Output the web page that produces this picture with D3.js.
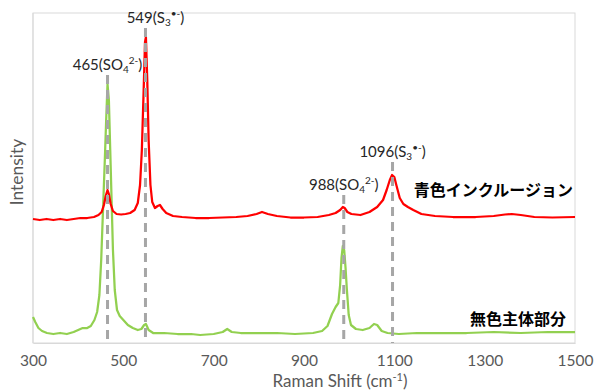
<!DOCTYPE html>
<html>
<head>
<meta charset="utf-8">
<script src="https://cdn.jsdelivr.net/npm/d3@7"></script>
<style>
  body { margin: 0; background: #fff; }
  svg { display: block; }
</style>
</head>
<body>
<div id="chart"></div>
<script>
// spectra: [Raman shift, intensity (arb.)]
const blueInclusion = [
  [300,124],[315,123],[330,124],[345,123],[360,124],[375,123],[390,124],[405,125],[420,125],
  [435,126],[445,128],[452,131],[457,138],[461,147],[465,153],[468,149],[472,139],[477,132],
  [485,129],[495,128.5],[505,129],[515,130],[525,133],[532,140],[537,158],[541,193],[545,253],
  [548,301],[550,306],[553,263],[556,203],[560,158],[564,141],[570,135],[576,137],[581,138],
  [587,134],[595,130],[610,127],[630,126],[660,125],[690,125],[720,125.5],[750,126],[775,127],
  [795,129],[807,131],[820,129],[840,127],[870,125.5],[900,125.5],[930,126],[955,128],[970,130],
  [980,133],[986,136],[990,135],[996,131],[1005,129],[1025,128],[1045,131],[1062,136],[1075,143],
  [1083,153],[1090,163],[1095,168],[1100,166],[1105,157],[1112,145],[1120,139],[1130,136],
  [1142,133],[1160,129],[1190,127],[1230,126],[1280,126],[1320,127],[1345,128.5],[1360,129],
  [1380,128],[1410,126],[1450,125.5],[1500,126]
]
const colourlessHost = [
  [300,26],[305,21],[312,15],[320,12],[331,10],[345,9],[360,10],[375,9],[390,11],[400,13],
  [410,15],[420,15],[428,17],[436,23],[442,31],[447,48],[451,83],[455,133],[459,183],[462,223],
  [465,259],[468,243],[471,193],[474,143],[477,93],[481,53],[486,33],[492,27],[500,23],[510,18],
  [521,15],[532,13],[540,14],[546,18],[550,19],[556,13],[566,10],[590,10],[620,9],[650,9],
  [670,8],[700,9],[720,11],[730,14],[740,11],[760,10],[800,10],[840,10],[880,9],[920,10],
  [940,12],[952,17],[962,29],[970,36],[976,40],[980,58],[983,85],[986,97],[989,93],[992,75],
  [995,53],[999,28],[1004,18],[1015,14],[1030,13],[1045,15],[1055,19],[1062,18],[1072,12],
  [1085,10],[1110,9],[1150,10],[1200,10],[1260,10],[1320,11],[1380,10],[1440,11],[1500,11]
]

// peak markers: position, top of dashed line, label parts (text, subscript, superscript)
const peakShift = [465, 549, 988, 1096]
const peakTop = [268, 315, 148, 181]
const peakText = ["465(SO", "549(S", "988(SO", "1096(S"]
const peakSub = ["4", "3", "4", "3"]
const peakSup = ["2-", "\u2022-", "2-", "\u2022-"]

const xTicks = [300, 500, 700, 900, 1100, 1300, 1500]
const seriesNames = ["青色インクルージョン", "無色主体部分"]

const width = 594, height = 390
const margin = { top: 13, right: 19, bottom: 47, left: 33 }

const svg = d3.select("#chart").append("svg")
  .attr("width", width)
  .attr("height", height)

const x = d3.scaleLinear()
  .domain([300, 1500])
  .range([margin.left, width - margin.right])
const y = d3.scaleLinear()
  .domain([0, 330])
  .range([height - margin.bottom, margin.top])

// plot frame
svg.append("rect")
  .attr("x", margin.left)
  .attr("y", margin.top)
  .attr("width", width - margin.left - margin.right)
  .attr("height", height - margin.top - margin.bottom)
  .attr("fill", "none")
  .attr("stroke", "#d9d9d9")
  .attr("stroke-width", 1)

const xAxis = svg.append("g")
  .attr("transform", `translate(0,${height - margin.bottom})`)
  .call(d3.axisBottom(x).tickValues(xTicks).tickFormat(d3.format("d")).tickSize(0).tickPadding(12))
xAxis.select(".domain").attr("stroke", "#d9d9d9")
xAxis.selectAll("text")
  .style("font-family", "Lato, sans-serif")
  .style("font-size", "15.5px")
  .attr("fill", "#595959")

svg.append("line")
  .attr("x1", margin.left).attr("x2", margin.left)
  .attr("y1", margin.top).attr("y2", height - margin.bottom)
  .attr("stroke", "#d9d9d9")

// axis titles
svg.append("text")
  .attr("x", 340)
  .attr("y", 387)
  .attr("text-anchor", "middle")
  .style("font-family", "Lato, sans-serif")
  .style("font-size", "17px")
  .attr("fill", "#595959")
  .call(t => {
    t.append("tspan").text("Raman Shift (cm")
    t.append("tspan").text("-1").attr("dy", -6).style("font-size", "11px")
    t.append("tspan").text(")").attr("dy", 6)
  })

svg.append("text")
  .attr("transform", "translate(23,172) rotate(-90)")
  .attr("text-anchor", "middle")
  .style("font-family", "Lato, sans-serif")
  .style("font-size", "17.5px")
  .attr("fill", "#595959")
  .text("Intensity")

const line = d3.line()
  .x(d => x(d[0]))
  .y(d => y(d[1]))

svg.append("path")
  .datum(colourlessHost)
  .attr("d", line)
  .attr("fill", "none")
  .attr("stroke", "#92d050")
  .attr("stroke-width", 2.25)
  .attr("stroke-linejoin", "round")

svg.append("path")
  .datum(blueInclusion)
  .attr("d", line)
  .attr("fill", "none")
  .attr("stroke", "#ff0000")
  .attr("stroke-width", 2.25)
  .attr("stroke-linejoin", "round")

// dashed peak markers
svg.selectAll(".peak")
  .data(peakShift)
  .enter().append("line")
  .attr("class", "peak")
  .attr("x1", d => x(d)).attr("x2", d => x(d))
  .attr("y1", (d, i) => y(peakTop[i]))
  .attr("y2", height - margin.bottom)
  .attr("stroke", "#a6a6a6")
  .attr("stroke-width", 3)
  .attr("stroke-dasharray", "9,6")

const labelDx = [0, 10, 0, 0]
const labels = svg.selectAll(".peakLabel")
  .data(peakShift)
  .enter().append("text")
  .attr("class", "peakLabel")
  .attr("x", (d, i) => x(d) + labelDx[i])
  .attr("y", (d, i) => y(peakTop[i]) - 5)
  .attr("text-anchor", "middle")
  .style("font-family", "Lato, sans-serif")
  .style("font-size", "15px")
  .attr("fill", "#262626")
labels.append("tspan").text((d, i) => peakText[i])
labels.append("tspan").text((d, i) => peakSub[i])
  .attr("dy", 3).style("font-size", "10px")
labels.append("tspan").text((d, i) => peakSup[i])
  .attr("dy", -9).style("font-size", "10px")
labels.append("tspan").text(")").attr("dy", 6)

// series labels
svg.append("text")
  .attr("x", 573).attr("y", 196)
  .attr("text-anchor", "end")
  .style("font-family", "'Noto Sans CJK JP', sans-serif")
  .style("font-weight", "bold")
  .style("font-size", "16px")
  .attr("fill", "#000")
  .text(seriesNames[0])

svg.append("text")
  .attr("x", 566).attr("y", 325)
  .attr("text-anchor", "end")
  .style("font-family", "'Noto Sans CJK JP', sans-serif")
  .style("font-weight", "bold")
  .style("font-size", "16px")
  .attr("fill", "#000")
  .text(seriesNames[1])
</script>
</body>
</html>
